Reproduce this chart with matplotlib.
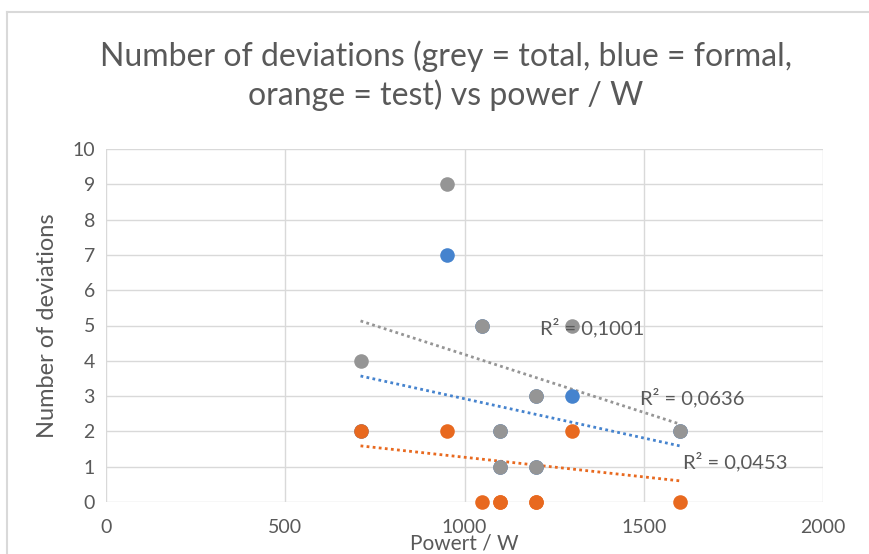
import matplotlib.pyplot as plt
from matplotlib.lines import Line2D

# data
power = [710, 950, 1050, 1100, 1100, 1200, 1200, 1300, 1600]
total = [4, 9, 5, 2, 1, 3, 1, 5, 2]
formal = [2, 7, 5, 2, 1, 3, 1, 3, 2]
test = [2, 2, 0, 0, 0, 0, 0, 2, 0]

# linear trendline end values as shown in the chart
trend_x = [710, 1600]
trend_total = [5.13, 2.21]
trend_formal = [3.57, 1.59]
trend_test = [1.59, 0.60]
r2_labels = ["R² = 0,1001", "R² = 0,0636", "R² = 0,0453"]
r2_pos = [(1210, 4.95), (1490, 2.95), (1610, 1.15)]

GREY = "#959595"
BLUE = "#4583CE"
ORANGE = "#E8691F"
TEXT = "#595959"
GRID = "#D9D9D9"

plt.rcParams["font.family"] = ["Lato", "DejaVu Sans"]

W, H = 869, 554
fig = plt.figure(figsize=(W / 100, H / 100), dpi=100)

# chart-area border (top and left visible in the crop)
fig.add_artist(Line2D([7 / W, 1], [1 - 12 / H, 1 - 12 / H], color=GRID, lw=1.5))
fig.add_artist(Line2D([7 / W, 7 / W], [0, 1 - 12 / H], color=GRID, lw=1.5))

ax = fig.add_axes([106 / W, 1 - 502 / H, (823 - 106) / W, (502 - 149) / H])
ax.set_xlim(0, 2000)
ax.set_ylim(0, 10)
ax.set_xticks(range(0, 2001, 500))
ax.set_yticks(range(0, 11))
ax.grid(True, color=GRID, lw=1)
ax.set_axisbelow(True)
for s in ax.spines.values():
    s.set_visible(False)
ax.tick_params(length=0, labelsize=14, labelcolor=TEXT)
ax.tick_params(axis="x", pad=12)
ax.tick_params(axis="y", pad=8)

dots = (0, (1, 1.2))
ax.plot(trend_x, trend_total, color=GREY, lw=2, ls=dots, zorder=2)
ax.plot(trend_x, trend_formal, color=BLUE, lw=2, ls=dots, zorder=2)
ax.plot(trend_x, trend_test, color=ORANGE, lw=2, ls=dots, zorder=2)

ax.scatter(power, formal, s=110, color=BLUE, zorder=3, clip_on=False, linewidths=0)
ax.scatter(power, total, s=110, color=GREY, zorder=4, clip_on=False, linewidths=0)
ax.scatter(power, test, s=110, color=ORANGE, zorder=5, clip_on=False, linewidths=0)

for label, (x, y) in zip(r2_labels, r2_pos):
    ax.text(x, y, label, fontsize=14.5, color=TEXT, va="center", ha="left", zorder=6)

ax.set_ylabel("Number of deviations", fontsize=17, color=TEXT, labelpad=10)
fig.text(464 / W, 1 - 544 / H, "Powert / W", fontsize=15, color=TEXT,
         ha="center", va="center")

fig.text(446 / W, 1 - 76 / H,
         "Number of deviations (grey = total, blue = formal,\norange = test) vs power / W",
         fontsize=23, color=TEXT, ha="center", va="center", linespacing=1.3)

fig.savefig("out.png", dpi=100)
